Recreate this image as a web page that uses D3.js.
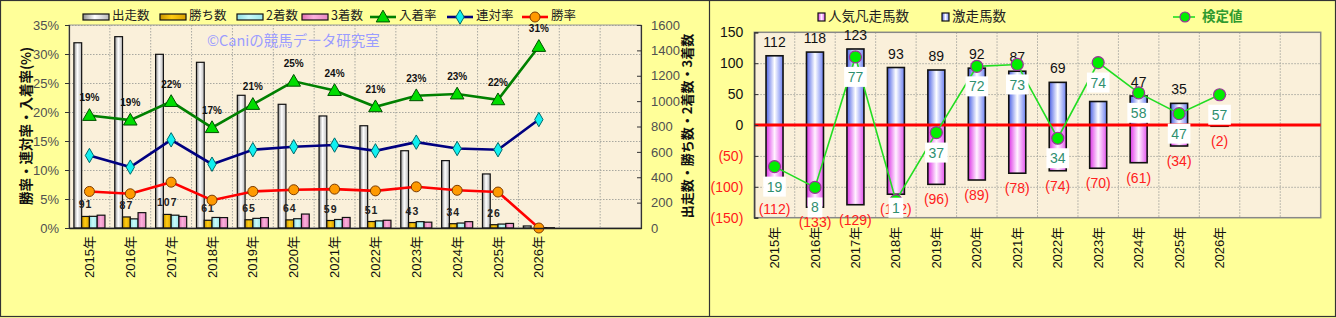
<!DOCTYPE html>
<html><head><meta charset="utf-8">
<script src="https://cdn.jsdelivr.net/npm/d3@7"></script>
<style>
html,body{margin:0;padding:0;background:#FFFF99;}
svg{display:block;}
text{font-family:"Liberation Sans","Noto Sans CJK JP",sans-serif;}
.jp{font-family:"Noto Sans CJK JP","Liberation Sans",sans-serif;}
</style></head>
<body>
<svg id="c" width="1336" height="318"></svg>
<script>
// ---------- data ----------
const years = ["2015年","2016年","2017年","2018年","2019年","2020年","2021年","2022年","2023年","2024年","2025年","2026年"];
const slotCount = 14;
// left chart
const starts  = [1460,1508,1369,1306,1046,975,883,806,609,531,426,16];
const wins    = [91,87,107,61,65,64,59,51,43,34,26,0];
const seconds = [92,72,101,83,76,73,67,56,50,39,31,3];
const thirds  = [101,121,91,82,82,110,83,61,46,50,36,2];
const winRate    = [6.3,5.9,7.9,4.8,6.3,6.6,6.7,6.4,7.1,6.5,6.2,0];
const rentaiRate = [12.5,10.5,15.2,11.0,13.5,14.0,14.3,13.3,14.8,13.7,13.5,18.7];
const placeRate  = [19.4,18.6,21.8,17.3,21.3,25.3,23.7,20.9,22.8,23.1,22.1,31.3];
const leftTicks  = [0,5,10,15,20,25,30,35];
const rightTicks = [0,200,400,600,800,1000,1200,1400,1600];
// right chart
const hotCounts  = [112,118,123,93,89,92,87,69,38,47,35,0];
const flopCounts = [112,133,129,112,96,89,78,74,70,61,34,2];
const testValues = [19,8,77,1,37,72,73,34,74,58,47,57];
const rTicks = [-150,-100,-50,0,50,100,150];

const svg = d3.select("#c");
const defs = svg.append("defs");
function hgrad(id, stops){
  const g = defs.append("linearGradient").attr("id",id).attr("x1","0%").attr("x2","100%").attr("y1","0%").attr("y2","0%");
  stops.forEach(s=>g.append("stop").attr("offset",s[0]).attr("stop-color",s[1]));
}
hgrad("gStarts",[["0%","#8e8e8e"],["45%","#ffffff"],["100%","#b8b8b8"]]);
hgrad("gWins",[["0%","#c89400"],["45%","#ffcc11"],["100%","#d8a000"]]);
hgrad("gSec",[["0%","#8fdde2"],["45%","#c8fafa"],["100%","#9ee8ea"]]);
hgrad("gThird",[["0%","#e070b0"],["45%","#fbb0dc"],["100%","#e887c0"]]);
hgrad("gHot",[["0%","#4d62e6"],["50%","#ffffff"],["100%","#6c80f2"]]);
hgrad("gFlop",[["0%","#dd33e6"],["50%","#fff2ff"],["100%","#e455ee"]]);

// background & frames
svg.append("rect").attr("x",0).attr("y",0).attr("width",1336).attr("height",318).attr("fill","#FFFF99");
svg.append("rect").attr("x",0.5).attr("y",0.5).attr("width",1335).attr("height",316).attr("fill","none").attr("stroke","#333").attr("stroke-width",1.2);
svg.append("line").attr("x1",709.5).attr("x2",709.5).attr("y1",0).attr("y2",317).attr("stroke","#333").attr("stroke-width",1.2);

// ================= LEFT CHART =================
const L = {x0:69, x1:641, y0:25, y1:228};
const gL = svg.append("g");
const xL = d3.scaleBand().domain(d3.range(slotCount)).range([L.x0,L.x1]);
const bwL = xL.bandwidth();
const yPct = d3.scaleLinear().domain([0,35]).range([L.y1,L.y0]);
const yCnt = d3.scaleLinear().domain([0,1600]).range([L.y1,L.y0]);
const keys = ["starts","wins","seconds","thirds"];
const sub = d3.scaleBand().domain(keys).range([0,bwL]).paddingInner(0).paddingOuter(0.63);
const fills = {starts:"url(#gStarts)",wins:"url(#gWins)",seconds:"url(#gSec)",thirds:"url(#gThird)"};
const series = {starts, wins, seconds, thirds};

gL.append("rect").attr("x",L.x0).attr("y",L.y0).attr("width",L.x1-L.x0).attr("height",L.y1-L.y0).attr("fill","#FAF0DA");
// grid
gL.append("g").selectAll("line").data(leftTicks.filter(d=>d>0)).join("line")
  .attr("x1",L.x0).attr("x2",L.x1).attr("y1",d=>yPct(d)+0.5).attr("y2",d=>yPct(d)+0.5)
  .attr("stroke","#a8a8a0").attr("stroke-dasharray","1.5,1.5").attr("stroke-width",1);
gL.append("g").selectAll("line").data(d3.range(1,slotCount)).join("line")
  .attr("x1",d=>L.x0+d*bwL).attr("x2",d=>L.x0+d*bwL).attr("y1",L.y0).attr("y2",L.y1)
  .attr("stroke","#a8a8a0").attr("stroke-dasharray","1.5,1.5").attr("stroke-width",1);
gL.append("rect").attr("x",L.x0).attr("y",L.y0).attr("width",L.x1-L.x0).attr("height",L.y1-L.y0)
  .attr("fill","none").attr("stroke","#999").attr("stroke-width",1);

// watermark
gL.append("text").attr("class","jp").attr("x",207).attr("y",46).attr("font-size",14.5).attr("fill","#9a9cff").text("©Caniの競馬データ研究室");

// bars
years.forEach((yr,i)=>{
  keys.forEach(k=>{
    const v = series[k][i];
    gL.append("rect").attr("x",xL(i)+sub(k)).attr("width",sub.bandwidth())
      .attr("y",yCnt(v)).attr("height",L.y1-yCnt(v))
      .attr("fill",fills[k]).attr("stroke","#111").attr("stroke-width",1.2);
  });
});
// win labels
gL.append("g").selectAll("text").data(wins).join("text")
  .attr("x",(d,i)=>xL(i)+sub("wins")+sub.bandwidth()/2)
  .attr("y",d=>yCnt(d)-8)
  .attr("text-anchor","middle").attr("font-size",10.5).attr("font-weight","bold").attr("letter-spacing",1).attr("fill","#222")
  .text(d=> d>0 ? d : "");

// lines
function drawLine(vals, color, marker){
  const line = d3.line().x((d,i)=>xL(i)+bwL/2).y(d=>yPct(d));
  gL.append("path").datum(vals).attr("d",line).attr("fill","none").attr("stroke",color).attr("stroke-width",2.6);
  const g = gL.append("g");
  vals.forEach((v,i)=>marker(g, xL(i)+bwL/2, yPct(v)));
}
const triM = (g,x,y)=>g.append("path").attr("d",d3.symbol(d3.symbolTriangle,80)()).attr("transform",`translate(${x},${y+1})`).attr("fill","#00dd00").attr("stroke","#005000").attr("stroke-width",1);
const diaM = (g,x,y)=>g.append("path").attr("d",d3.symbol(d3.symbolDiamond,60)()).attr("transform",`translate(${x},${y})`).attr("fill","#11f0f0").attr("stroke","#006a6a").attr("stroke-width",1);
const cirM = (g,x,y)=>g.append("circle").attr("cx",x).attr("cy",y).attr("r",5).attr("fill","#ff9a00").attr("stroke","#7a3a00").attr("stroke-width",1);
drawLine(winRate,"#ff0000",cirM);
drawLine(rentaiRate,"#000080",diaM);
drawLine(placeRate,"#008000",triM);
// place rate labels
gL.append("g").selectAll("text").data(placeRate).join("text")
  .attr("x",(d,i)=>xL(i)+bwL/2).attr("y",d=>yPct(d)-14)
  .attr("text-anchor","middle").attr("font-size",10).attr("font-weight","bold").attr("fill","#111")
  .text(d=>Math.round(d)+"%");

// axes
const axL = gL.append("g").attr("transform",`translate(${L.x0},0)`)
  .call(d3.axisLeft(yPct).tickValues(leftTicks).tickFormat(d=>d+"%").tickSize(4).tickPadding(6));
const axR = gL.append("g").attr("transform",`translate(${L.x1},0)`)
  .call(d3.axisRight(yCnt).tickValues(rightTicks).tickFormat(d3.format("d")).tickSize(-4).tickPadding(10));
const axB = gL.append("g").attr("transform",`translate(0,${L.y1})`)
  .call(d3.axisBottom(xL).tickSize(0).tickFormat(i=>years[i]||""));
[axL,axR].forEach(a=>{
  a.selectAll("text").attr("font-size",13).attr("fill","#505050").attr("font-family","Liberation Sans");
  a.selectAll("line").attr("stroke","#333");
  a.select(".domain").attr("stroke","#333").attr("stroke-width",1.2);
});
axB.select(".domain").attr("stroke","#222").attr("stroke-width",1.4);
axB.selectAll("text").attr("transform","rotate(-90)").attr("x",-8).attr("y",0).attr("dy","0.35em")
  .attr("text-anchor","end").attr("font-size",13).attr("fill","#111");

// axis titles
gL.append("text").attr("class","jp").attr("transform","translate(27,126) rotate(-90)").attr("text-anchor","middle").attr("dominant-baseline","middle")
  .attr("font-size",13.5).attr("font-weight","bold").attr("fill","#111").text("勝率・連対率・入着率(%)");
gL.append("text").attr("class","jp").attr("transform","translate(688,126) rotate(-90)").attr("text-anchor","middle").attr("dominant-baseline","middle")
  .attr("font-size",13).attr("font-weight","bold").attr("fill","#111").text("出走数・勝ち数・2着数・3着数");

// legend left
const legBars = [["出走数","url(#gStarts)",83],["勝ち数","url(#gWins)",160],["2着数","url(#gSec)",237],["3着数","url(#gThird)",302]];
legBars.forEach(([t,f,x])=>{
  gL.append("rect").attr("x",x).attr("y",14).attr("width",26).attr("height",6).attr("fill",f).attr("stroke","#111").attr("stroke-width",1.2);
  gL.append("text").attr("class","jp").attr("x",x+29).attr("y",17).attr("dominant-baseline","middle").attr("font-size",12.5).attr("fill","#222").text(t);
});
const legLines = [["入着率","#008000",triM,370],["連対率","#000080",diaM,447],["勝率","#ff0000",cirM,522]];
legLines.forEach(([t,c,m,x])=>{
  gL.append("line").attr("x1",x).attr("x2",x+26).attr("y1",17).attr("y2",17).attr("stroke",c).attr("stroke-width",2.6);
  m(gL,x+13,17);
  gL.append("text").attr("class","jp").attr("x",x+29).attr("y",17).attr("dominant-baseline","middle").attr("font-size",12.5).attr("fill","#222").text(t);
});

// ================= RIGHT CHART =================
const R = {x0:754.3, x1:1320.7, y0:32.3, y1:217.7};
const gR = svg.append("g");
const xR = d3.scaleBand().domain(d3.range(slotCount)).range([R.x0,R.x1]);
const bwR = xR.bandwidth();
const yR = d3.scaleLinear().domain([-150,150]).range([R.y1,R.y0]);
const yT = d3.scaleLinear().domain([-8,90]).range([R.y1,R.y0]);
const barW = bwR*0.42;

gR.append("rect").attr("x",R.x0).attr("y",R.y0).attr("width",R.x1-R.x0).attr("height",R.y1-R.y0).attr("fill","#FAF0DA");
gR.append("g").selectAll("line").data(rTicks.filter(d=>d>-150&&d<150)).join("line")
  .attr("x1",R.x0).attr("x2",R.x1).attr("y1",d=>yR(d)+0.5).attr("y2",d=>yR(d)+0.5)
  .attr("stroke","#a8a8a0").attr("stroke-dasharray","1.5,1.5");
gR.append("g").selectAll("line").data(d3.range(1,slotCount)).join("line")
  .attr("x1",d=>R.x0+d*bwR).attr("x2",d=>R.x0+d*bwR).attr("y1",R.y0).attr("y2",R.y1)
  .attr("stroke","#a8a8a0").attr("stroke-dasharray","1.5,1.5");
gR.append("rect").attr("x",R.x0).attr("y",R.y0).attr("width",R.x1-R.x0).attr("height",R.y1-R.y0)
  .attr("fill","none").attr("stroke","#888").attr("stroke-width",1.5);

// bars
years.forEach((yr,i)=>{
  const cx = xR(i)+bwR/2;
  gR.append("rect").attr("x",cx-barW/2).attr("width",barW).attr("y",yR(hotCounts[i])).attr("height",yR(0)-yR(hotCounts[i]))
    .attr("fill","url(#gHot)").attr("stroke","#111").attr("stroke-width",1.6);
  gR.append("rect").attr("x",cx-barW/2).attr("width",barW).attr("y",yR(0)).attr("height",yR(-flopCounts[i])-yR(0))
    .attr("fill","url(#gFlop)").attr("stroke","#111").attr("stroke-width",1.6);
});
// zero line
gR.append("line").attr("x1",R.x0).attr("x2",R.x1).attr("y1",yR(0)).attr("y2",yR(0)).attr("stroke","#ff0000").attr("stroke-width",3);

// test value label boxes (computed first so hidden value labels can be skipped)
const boxes = testValues.map((v,i)=>{
  const cx = xR(i)+bwR/2;
  const cy = Math.min(yT(v)+20, R.y1-10);
  return {v, cx, cy};
});
const covered = (x,y)=>boxes.some(b=>Math.abs(b.cx-x)<14 && Math.abs(b.cy-y)<14);

// value labels
hotCounts.forEach((d,i)=>{
  const x = xR(i)+bwR/2, y = yR(d)-9;
  if (d===0 || covered(x,y-5)) return;
  gR.append("text").attr("x",x).attr("y",y).attr("text-anchor","middle").attr("font-size",14).attr("fill","#111").text(d);
});
gR.append("g").selectAll("text").data(flopCounts).join("text")
  .attr("x",(d,i)=>xR(i)+bwR/2).attr("y",d=>yR(-d)+20)
  .attr("text-anchor","middle").attr("font-size",14).attr("fill","#ff2020").text(d=>"("+d+")");

// test value line
const tline = d3.line().x((d,i)=>xR(i)+bwR/2).y(d=>yT(d));
gR.append("path").datum(testValues).attr("d",tline).attr("fill","none").attr("stroke","#22dd22").attr("stroke-width",1.6);
gR.append("g").selectAll("circle").data(testValues).join("circle")
  .attr("cx",(d,i)=>xR(i)+bwR/2).attr("cy",d=>yT(d)).attr("r",6)
  .attr("fill","#00ee00").attr("stroke","#9a3399").attr("stroke-width",1.2);
const tl = gR.append("g");
boxes.forEach(b=>{
  const t = tl.append("text").attr("x",b.cx).attr("y",b.cy).attr("dy","0.36em").attr("text-anchor","middle")
    .attr("font-size",14).attr("fill","#2f8f6f").text(b.v);
  const w = t.node().getComputedTextLength()+7;
  tl.insert("rect","text").attr("x",b.cx-w/2).attr("y",b.cy-10).attr("width",w).attr("height",20).attr("fill","#ffffff");
});

// axes
const raxL = gR.append("g").attr("transform",`translate(${R.x0},0)`)
  .call(d3.axisLeft(yR).tickValues(rTicks).tickSize(-4).tickPadding(11).tickFormat(d=>d<0?"("+(-d)+")":d));
raxL.select(".domain").attr("stroke","#333").attr("stroke-width",1.2);
raxL.selectAll("line").attr("stroke","#333");
raxL.selectAll("text").attr("font-size",14).attr("fill",d=>d<0?"#ff1a1a":"#111");
const raxB = gR.append("g").attr("transform",`translate(0,${R.y1})`)
  .call(d3.axisBottom(xR).tickSize(0).tickFormat(i=>years[i]||""));
raxB.select(".domain").remove();
raxB.selectAll("text").attr("transform","rotate(-90)").attr("x",-9).attr("y",0).attr("dy","0.35em")
  .attr("text-anchor","end").attr("font-size",13).attr("fill","#111");

// legend right
const rLeg = [["人気凡走馬数","url(#gFlop)",818],["激走馬数","url(#gHot)",942]];
rLeg.forEach(([t,f,x])=>{
  gR.append("rect").attr("x",x).attr("y",13).attr("width",7).attr("height",8).attr("fill",f).attr("stroke","#111").attr("stroke-width",1.2);
  gR.append("text").attr("class","jp").attr("x",x+10).attr("y",17).attr("dominant-baseline","middle").attr("font-size",13.5).attr("fill","#222").text(t);
});
gR.append("line").attr("x1",1173).attr("x2",1195).attr("y1",17).attr("y2",17).attr("stroke","#22dd22").attr("stroke-width",1.6);
gR.append("circle").attr("cx",1185).attr("cy",17).attr("r",5).attr("fill","#00ee00").attr("stroke","#9a3399").attr("stroke-width",1.2);
gR.append("text").attr("class","jp").attr("x",1202).attr("y",17).attr("dominant-baseline","middle").attr("font-size",13.5).attr("font-weight","bold").attr("fill","#2f9a2f").text("検定値");
</script>
</body></html>
